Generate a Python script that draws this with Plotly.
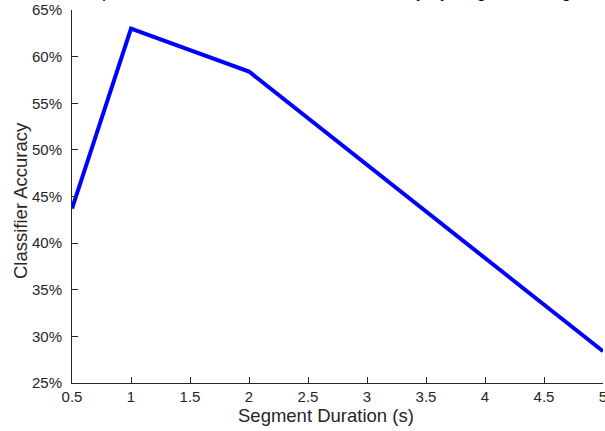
import plotly.graph_objects as go

# Data
durations = [0.5, 1, 2, 5]
accuracy = [43.7, 63.0, 58.4, 28.4]

x_ticks = [0.5, 1, 1.5, 2, 2.5, 3, 3.5, 4, 4.5, 5]
x_tick_text = ["0.5", "1", "1.5", "2", "2.5", "3", "3.5", "4", "4.5", "5"]
y_ticks = [25, 30, 35, 40, 45, 50, 55, 60, 65]
y_tick_text = [f"{v}%" for v in y_ticks]

x_title = "Segment Duration (s)"
y_title = "Classifier Accuracy"
title_text = "Speaker Identification: Classifier Accuracy by Segment Length"

axis_color = "#262626"
font_family = "Liberation Sans, Arial, Helvetica, sans-serif"

fig = go.Figure()
fig.add_trace(go.Scatter(
    x=durations, y=accuracy, mode="lines",
    line=dict(color="#0000FF", width=4),
    cliponaxis=False, showlegend=False,
))

fig.update_layout(
    width=605, height=431,
    margin=dict(l=72, r=2, t=10, b=48, autoexpand=False),
    paper_bgcolor="white", plot_bgcolor="white",
    font=dict(family=font_family, color=axis_color, size=15),
    xaxis=dict(
        range=[0.5, 5], tickvals=x_ticks, ticktext=x_tick_text,
        ticks="inside", ticklen=6, tickcolor=axis_color,
        showline=True, linecolor=axis_color, linewidth=1,
        showgrid=False, zeroline=False, mirror=False,
        ticklabeloverflow="allow", automargin=False,
        ticklabelstandoff=0,
        tickfont=dict(size=15, color=axis_color),
    ),
    yaxis=dict(
        range=[25, 65], tickvals=y_ticks, ticktext=y_tick_text,
        ticks="inside", ticklen=6, tickcolor=axis_color,
        showline=True, linecolor=axis_color, linewidth=1,
        showgrid=False, zeroline=False, mirror=False,
        ticklabeloverflow="allow", automargin=False,
        ticklabelstandoff=6,
        tickfont=dict(size=15, color=axis_color),
    ),
    annotations=[
        dict(text=title_text, xref="paper", yref="paper",
             x=0.5, y=1 + 19 / 373, xanchor="center", yanchor="middle",
             showarrow=False, font=dict(size=18, color="black", family=font_family)),
        dict(text=x_title, xref="paper", yref="paper",
             x=(326 - 72) / 531, y=-(415 - 383) / 373,
             xanchor="center", yanchor="middle", showarrow=False,
             font=dict(size=18.5, color=axis_color, family=font_family)),
        dict(text=y_title, xref="paper", yref="paper", textangle=-90,
             x=-(72 - 20) / 531, y=(383 - 201) / 373,
             xanchor="center", yanchor="middle", showarrow=False,
             font=dict(size=18.5, color=axis_color, family=font_family)),
    ],
)

fig.write_html("out.html")
